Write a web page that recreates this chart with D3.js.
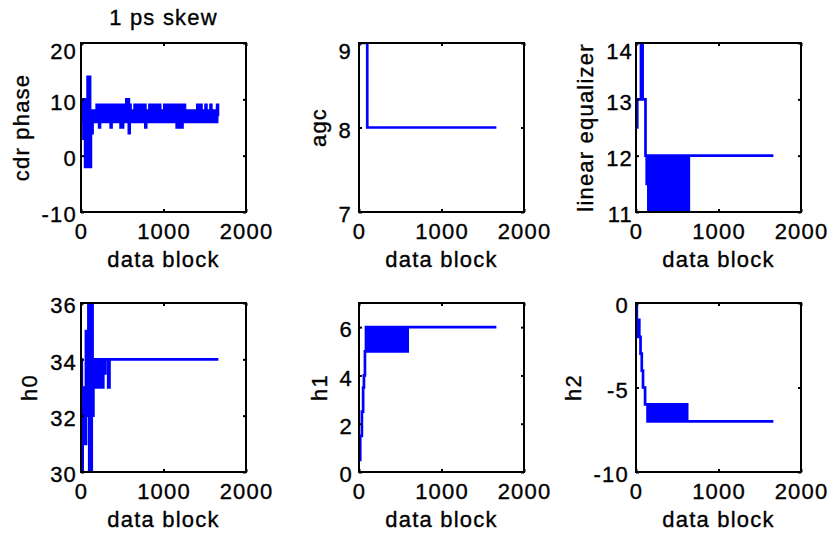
<!DOCTYPE html>
<html>
<head>
<meta charset="utf-8">
<script src="https://cdn.jsdelivr.net/npm/d3@7"></script>
<style>
  html, body { margin: 0; padding: 0; background: #fff; }
  svg text { font-family: "Liberation Sans", Arial, sans-serif; font-size: 22px; letter-spacing: 1.2px; fill: #000; stroke: #000; stroke-width: 0.35px; }
</style>
</head>
<body>
<svg id="chart" width="833" height="535"></svg>
<script>
// Tick values
const blockTicks = [0, 1000, 2000];
const cdrPhaseTicks = [-10, 0, 10, 20];
const agcTicks = [7, 8, 9];
const equalizerTicks = [11, 12, 13, 14];
const h0Ticks = [30, 32, 34, 36];
const h1Ticks = [0, 2, 4, 6];
const h2Ticks = [-10, -5, 0];

// Each series: [data block, value] change points (held until the next point)
const cdrPhase = [
  [0,6],[20,10],[30,3],[40,10],[50,-2],[60,10],[70,-2],[80,14],[90,-2],[100,14],[110,-2],[120,8],[130,4],[140,8],
  [150,8],[160,6],[170,8],[180,6],[190,9],[200,6],[210,9],[220,5],[230,9],[240,6],
  [250,9],[260,6],[270,9],[280,6],[290,9],[300,6],[310,9],[320,6],[330,9],[340,6],
  [350,9],[360,5],[370,9],[380,6],[390,9],[400,6],[410,9],[420,6],[430,9],[440,6],
  [450,9],[460,6],[470,9],[480,5],[490,9],[500,5],[510,9],[520,6],[530,9],[540,6],
  [550,10],[560,6],[570,10],[580,4],[590,9],[600,6],[610,8],[620,6],[630,8],[640,6],
  [650,9],[660,6],[670,9],[680,6],[690,9],[700,6],[710,9],[720,6],[730,8],[740,6],
  [750,9],[760,6],[770,9],[780,5],[790,8],[800,6],[810,8],[820,6],[830,9],[840,6],
  [850,9],[860,6],[870,9],[880,6],[890,9],[900,6],[910,8],[920,6],[930,9],[940,6],
  [950,9],[960,6],[970,8],[980,6],[990,8],[1000,6],[1010,9],[1020,6],[1030,9],[1040,6],
  [1050,8],[1060,6],[1070,9],[1080,6],[1090,9],[1100,6],[1110,8],[1120,6],[1130,9],[1140,6],
  [1150,9],[1160,5],[1170,9],[1180,5],[1190,9],[1200,5],[1210,9],[1220,5],[1230,9],[1240,6],
  [1250,9],[1260,6],[1270,8],[1280,6],[1290,8],[1300,6],[1310,8],[1320,6],[1330,8],[1340,6],
  [1350,8],[1360,6],[1370,8],[1380,6],[1390,8],[1400,6],[1410,9],[1420,6],[1430,8],[1440,6],
  [1450,9],[1460,6],[1470,8],[1480,6],[1490,8],[1500,6],[1510,9],[1520,6],[1530,8],[1540,6],
  [1550,8],[1560,6],[1570,9],[1580,6],[1590,8],[1600,6],[1610,8],[1620,6],[1630,8],[1640,6],
  [1650,9],[1660,7]
];

const agc = [[0,9],[100,8],[1665,8]];

const linearEqualizer = [
  [0,12.5],[15,13],[60,14],[80,13],[115,12],[130,11.5],[140,12],
  [150,11],[160,12],[170,11],[180,12],[190,11],[200,12],[210,11],[220,12],[230,11],[240,12],
  [250,11],[260,12],[270,11],[280,12],[290,11],[300,12],[310,11],[320,12],[330,11],[340,12],
  [350,11],[360,12],[370,11],[380,12],[390,11],[400,12],[410,11],[420,12],[430,11],[440,12],
  [450,11],[460,12],[470,11],[480,12],[490,11],[500,12],[510,11],[520,12],[530,11],[540,12],
  [550,11],[560,12],[570,11],[580,12],[590,11],[600,12],[610,11],[620,12],[630,11],[640,12],
  [1665,12]
];

const h0 = [
  [0,34],[10,30],[20,33],[30,31],[40,33],[50,31],[60,35],[70,32],[80,35],[90,36],
  [100,30],[110,36],[120,30],[130,36],[140,32],[150,34],
  [160,33],[170,34],[180,33],[190,34],[200,33],[210,34],[220,33],[230,34],[240,33],[250,34],[260,33],
  [270,34],[280,33.5],[295,34],[330,33],[345,34],[1665,34]
];

const h1 = [
  [0,0.5],[15,1.5],[35,2.5],[50,3.5],[60,4],[72,5],[85,6],
  [100,5],[110,6],[120,5],[130,6],[140,5],[150,6],[160,5],[170,6],[180,5],[190,6],
  [200,5],[210,6],[220,5],[230,6],[240,5],[250,6],[260,5],[270,6],[280,5],[290,6],
  [300,5],[310,6],[320,5],[330,6],[340,5],[350,6],[360,5],[370,6],[380,5],[390,6],
  [400,5],[410,6],[420,5],[430,6],[440,5],[450,6],[460,5],[470,6],[480,5],[490,6],
  [500,5],[510,6],[520,5],[530,6],[540,5],[550,6],[560,5],[570,6],[580,5],[590,6],
  [1665,6]
];

const h2 = [
  [0,0],[10,-2],[25,-1],[40,-2],[55,-3],[70,-4],[85,-5],[110,-6],[140,-7],
  [150,-6],[160,-7],[170,-6],[180,-7],[190,-6],[200,-7],[210,-6],[220,-7],[230,-6],[240,-7],
  [250,-6],[260,-7],[270,-6],[280,-7],[290,-6],[300,-7],[310,-6],[320,-7],[330,-6],[340,-7],
  [350,-6],[360,-7],[370,-6],[380,-7],[390,-6],[400,-7],[410,-6],[420,-7],[430,-6],[440,-7],
  [450,-6],[460,-7],[470,-6],[480,-7],[490,-6],[500,-7],[510,-6],[520,-7],[530,-6],[540,-7],
  [550,-6],[560,-7],[570,-6],[580,-7],[590,-6],[600,-7],[610,-6],[620,-7],
  [1665,-7]
];

const panels = [
  { title: "1 ps skew", ylabel: "cdr phase", data: cdrPhase, yDomain: [-10, 20], yTicks: cdrPhaseTicks, pad: 4 },
  { title: "", ylabel: "agc", data: agc, yDomain: [7, 9], yTicks: agcTicks, pad: 7 },
  { title: "", ylabel: "linear equalizer", data: linearEqualizer, yDomain: [11, 14], yTicks: equalizerTicks, pad: 3 },
  { title: "", ylabel: "h0", data: h0, yDomain: [30, 36], yTicks: h0Ticks, pad: 4 },
  { title: "", ylabel: "h1", data: h1, yDomain: [0, 7], yTicks: h1Ticks, pad: 6 },
  { title: "", ylabel: "h2", data: h2, yDomain: [-10, 0], yTicks: h2Ticks, pad: 7 }
];

const svg = d3.select("#chart");
const W = 165, H = 169;
const colLeft = [81, 359, 636];
const rowTop = [43, 303];

panels.forEach((p, i) => {
  const col = i % 3, row = Math.floor(i / 3);
  const g = svg.append("g").attr("transform", `translate(${colLeft[col]},${rowTop[row]})`);

  const x = d3.scaleLinear().domain([0, 2000]).range([0, W]);
  const y = d3.scaleLinear().domain(p.yDomain).range([H, 0]);

  const clipId = "plot-clip-" + i;
  g.append("clipPath").attr("id", clipId)
    .append("rect").attr("x", 0).attr("y", 0).attr("width", W).attr("height", H);

  const line = d3.line()
    .x(d => x(d[0]))
    .y(d => y(d[1]))
    .curve(d3.curveStepAfter);

  g.append("path")
    .datum(p.data)
    .attr("clip-path", `url(#${clipId})`)
    .attr("fill", "none")
    .attr("stroke", "#0000ff")
    .attr("stroke-width", 2.7)
    .attr("d", line);

  // inward ticks on all four sides
  const noDomain = a => a.select(".domain").remove();
  g.append("g").attr("transform", `translate(0,${H})`)
    .call(d3.axisBottom(x).tickValues(blockTicks).tickSizeInner(-3).tickSizeOuter(0)
      .tickPadding(11.4).tickFormat(d => String(d)))
    .call(noDomain);
  g.append("g")
    .call(d3.axisTop(x).tickValues(blockTicks).tickSizeInner(-3).tickSizeOuter(0).tickFormat(""))
    .call(noDomain);
  g.append("g")
    .call(d3.axisLeft(y).tickValues(p.yTicks).tickSizeInner(-3).tickSizeOuter(0).tickFormat(""))
    .call(noDomain);
  g.append("g").attr("transform", `translate(${W},0)`)
    .call(d3.axisRight(y).tickValues(p.yTicks).tickSizeInner(-3).tickSizeOuter(0).tickFormat(""))
    .call(noDomain);
  g.selectAll(".tick line").attr("stroke", "#000").attr("stroke-width", 2);

  // y tick labels
  const minBaseline = row === 0 ? 15.7 : -Infinity;
  const yLabels = g.append("g");
  yLabels.selectAll("text").data(p.yTicks).join("text")
    .attr("x", -p.pad)
    .attr("y", d => Math.max(y(d) + 10.3, minBaseline))
    .attr("text-anchor", "end")
    .text(d => String(d));

  // frame
  g.append("rect")
    .attr("x", 0).attr("y", 0).attr("width", W).attr("height", H)
    .attr("fill", "none").attr("stroke", "#000").attr("stroke-width", 2);

  // axis titles
  g.append("text")
    .attr("x", W / 2).attr("y", H + 55)
    .attr("text-anchor", "middle")
    .text("data block");

  const bb = yLabels.node().getBBox();
  g.append("text")
    .attr("transform", `translate(${bb.x - 13},${H / 2}) rotate(-90)`)
    .attr("text-anchor", "middle")
    .text(p.ylabel);

  if (p.title) {
    g.append("text")
      .attr("x", W / 2).attr("y", -18)
      .attr("text-anchor", "middle")
      .text(p.title);
  }
});
</script>
</body>
</html>
